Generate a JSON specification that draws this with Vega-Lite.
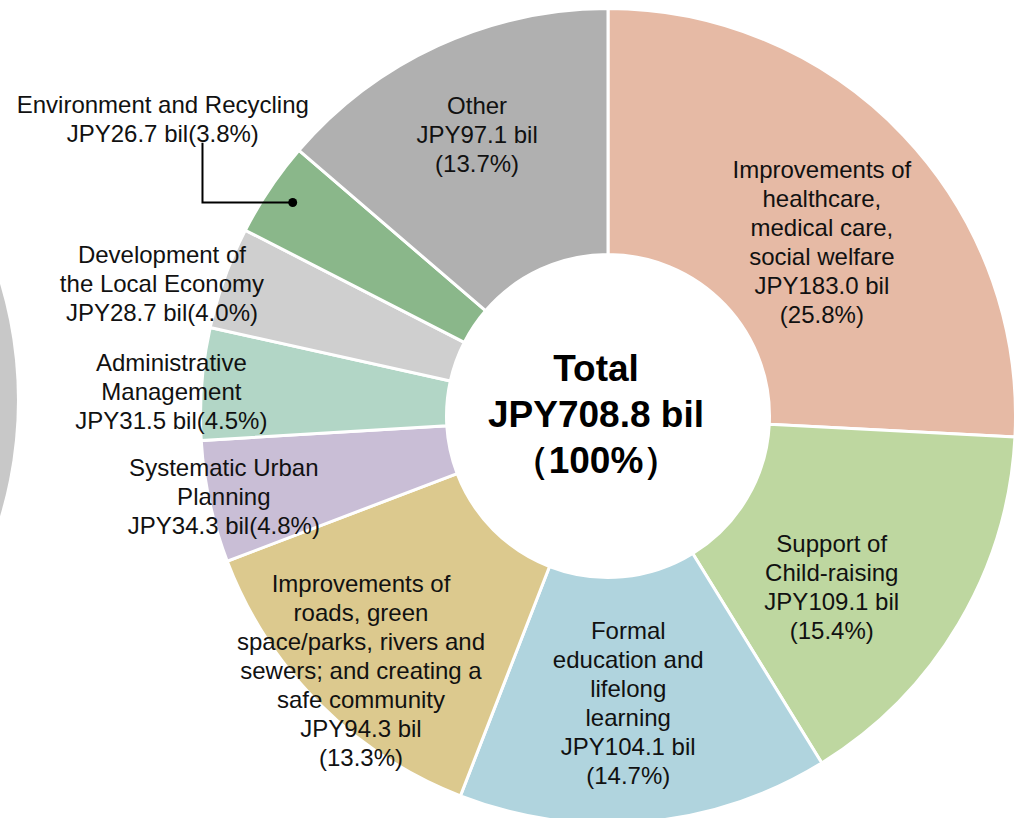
{
  "$schema": "https://vega.github.io/schema/vega-lite/v6.json",
  "width": 812,
  "height": 800,
  "autosize": {"type": "none"},
  "padding": {"left": 202, "right": 2, "top": 16, "bottom": 2},
  "background": "white",
  "config": {"view": {"stroke": null}, "text": {"font": "Liberation Sans", "fontSize": 24, "lineHeight": 29, "lineBreak": "\n", "color": "#111111", "align": "center", "baseline": "middle"}},
  "datasets": {
    "budget": [
      {"idx": 1, "key": "health", "value": 183.0, "label": "Improvements of\nhealthcare,\nmedical care,\nsocial welfare\nJPY183.0 bil\n(25.8%)"},
      {"idx": 2, "key": "child", "value": 109.1, "label": "Support of\nChild-raising\nJPY109.1 bil\n(15.4%)"},
      {"idx": 3, "key": "edu", "value": 104.1, "label": "Formal\neducation and\nlifelong\nlearning\nJPY104.1 bil\n(14.7%)"},
      {"idx": 4, "key": "roads", "value": 94.3, "label": "Improvements of\nroads, green\nspace/parks, rivers and\nsewers; and creating a\nsafe community\nJPY94.3 bil\n(13.3%)"},
      {"idx": 5, "key": "urban", "value": 34.3, "label": "Systematic Urban\nPlanning\nJPY34.3 bil(4.8%)"},
      {"idx": 6, "key": "admin", "value": 31.5, "label": "Administrative\nManagement\nJPY31.5 bil(4.5%)"},
      {"idx": 7, "key": "local", "value": 28.7, "label": "Development of\nthe Local Economy\nJPY28.7 bil(4.0%)"},
      {"idx": 8, "key": "env", "value": 26.7, "label": "Environment and Recycling\nJPY26.7 bil(3.8%)"},
      {"idx": 9, "key": "other", "value": 97.1, "label": "Other\nJPY97.1 bil\n(13.7%)"}
    ],
    "leader": [
      {"seq": 1, "lx": -0.9988, "ly": 0.673},
      {"seq": 2, "lx": -0.9988, "ly": 0.5259},
      {"seq": 3, "lx": -0.7766, "ly": 0.5259}
    ]
  },
  "layer": [
    {
      "data": {"values": [{"chart": "adjacent"}]},
      "mark": {"type": "arc", "outerRadius": 406, "innerRadius": 0, "theta": 0, "theta2": 6.2832, "color": "#C8C8C8"},
      "encoding": {
        "x": {"datum": -2.4557, "type": "quantitative", "scale": {"domain": [-1, 1], "nice": false, "zero": false}, "axis": null},
        "y": {"datum": 0.0394, "type": "quantitative", "scale": {"domain": [-0.98522, 0.98522], "nice": false, "zero": false}, "axis": null}
      }
    },
    {
      "data": {"name": "budget"},
      "mark": {"type": "arc", "outerRadius": 407.5, "innerRadius": 161.5, "stroke": "white", "strokeWidth": 3},
      "encoding": {
        "theta": {"field": "value", "type": "quantitative", "stack": true},
        "order": {"field": "idx", "type": "quantitative"},
        "color": {
          "field": "key", "type": "nominal", "legend": null,
          "scale": {
            "domain": ["health", "child", "edu", "roads", "urban", "admin", "local", "env", "other"],
            "range": ["#E6BAA5", "#BED7A0", "#B0D4DE", "#DCC98E", "#C9BED6", "#B2D6C6", "#CFCFCF", "#8AB78A", "#B0B0B0"]
          }
        }
      }
    },
    {
      "data": {"name": "leader"},
      "mark": {"type": "line", "color": "black", "strokeWidth": 2},
      "encoding": {
        "x": {"field": "lx", "type": "quantitative", "scale": {"domain": [-1, 1], "nice": false, "zero": false}, "axis": null},
        "y": {"field": "ly", "type": "quantitative", "scale": {"domain": [-0.98522, 0.98522], "nice": false, "zero": false}, "axis": null},
        "order": {"field": "seq", "type": "quantitative"}
      }
    },
    {
      "data": {"name": "leader"},
      "transform": [{"filter": "datum.seq == 3"}],
      "mark": {"type": "point", "filled": true, "color": "black", "size": 80, "opacity": 1},
      "encoding": {
        "x": {"field": "lx", "type": "quantitative", "scale": {"domain": [-1, 1], "nice": false, "zero": false}, "axis": null},
        "y": {"field": "ly", "type": "quantitative", "scale": {"domain": [-0.98522, 0.98522], "nice": false, "zero": false}, "axis": null}
      }
    },
    {
      "data": {"name": "budget"},
      "mark": {"type": "text", "radius": 274.3, "dx": 15, "dy": -56.5},
      "encoding": {
        "theta": {"field": "value", "type": "quantitative", "stack": true},
        "order": {"field": "idx", "type": "quantitative"},
        "text": {"condition": {"test": "datum.key === 'health'", "field": "label", "type": "nominal"}, "value": ""}
      }
    },
    {
      "data": {"name": "budget"},
      "mark": {"type": "text", "radius": 281, "dx": -18, "dy": -14.2},
      "encoding": {
        "theta": {"field": "value", "type": "quantitative", "stack": true},
        "order": {"field": "idx", "type": "quantitative"},
        "text": {"condition": {"test": "datum.key === 'child'", "field": "label", "type": "nominal"}, "value": ""}
      }
    },
    {
      "data": {"name": "budget"},
      "mark": {"type": "text", "radius": 289, "dx": -6, "dy": -71.8},
      "encoding": {
        "theta": {"field": "value", "type": "quantitative", "stack": true},
        "order": {"field": "idx", "type": "quantitative"},
        "text": {"condition": {"test": "datum.key === 'edu'", "field": "label", "type": "nominal"}, "value": ""}
      }
    },
    {
      "data": {"name": "budget"},
      "mark": {"type": "text", "radius": 356, "dx": 5.5, "dy": -81.9},
      "encoding": {
        "theta": {"field": "value", "type": "quantitative", "stack": true},
        "order": {"field": "idx", "type": "quantitative"},
        "text": {"condition": {"test": "datum.key === 'roads'", "field": "label", "type": "nominal"}, "value": ""}
      }
    },
    {
      "data": {"name": "budget"},
      "mark": {"type": "text", "radius": 393, "dx": 0, "dy": -29.8},
      "encoding": {
        "theta": {"field": "value", "type": "quantitative", "stack": true},
        "order": {"field": "idx", "type": "quantitative"},
        "text": {"condition": {"test": "datum.key === 'urban'", "field": "label", "type": "nominal"}, "value": ""}
      }
    },
    {
      "data": {"name": "budget"},
      "mark": {"type": "text", "radius": 437, "dx": -1, "dy": -17.3},
      "encoding": {
        "theta": {"field": "value", "type": "quantitative", "stack": true},
        "order": {"field": "idx", "type": "quantitative"},
        "text": {"condition": {"test": "datum.key === 'admin'", "field": "label", "type": "nominal"}, "value": ""}
      }
    },
    {
      "data": {"name": "budget"},
      "mark": {"type": "text", "radius": 464, "dx": -9.6, "dy": -2.5},
      "encoding": {
        "theta": {"field": "value", "type": "quantitative", "stack": true},
        "order": {"field": "idx", "type": "quantitative"},
        "text": {"condition": {"test": "datum.key === 'local'", "field": "label", "type": "nominal"}, "value": ""}
      }
    },
    {
      "data": {"name": "budget"},
      "mark": {"type": "text", "radius": 534, "dx": -2, "dy": -12.2},
      "encoding": {
        "theta": {"field": "value", "type": "quantitative", "stack": true},
        "order": {"field": "idx", "type": "quantitative"},
        "text": {"condition": {"test": "datum.key === 'env'", "field": "label", "type": "nominal"}, "value": ""}
      }
    },
    {
      "data": {"name": "budget"},
      "mark": {"type": "text", "radius": 309, "dx": -2, "dy": -28.2},
      "encoding": {
        "theta": {"field": "value", "type": "quantitative", "stack": true},
        "order": {"field": "idx", "type": "quantitative"},
        "text": {"condition": {"test": "datum.key === 'other'", "field": "label", "type": "nominal"}, "value": ""}
      }
    },
    {
      "data": {"values": [{"t": "Total\nJPY708.8 bil\n（100%）"}]},
      "mark": {"type": "text", "fontSize": 37, "fontWeight": "bold", "lineHeight": 46, "color": "#000000", "dx": -12, "dy": -46},
      "encoding": {
        "x": {"datum": 0, "type": "quantitative", "scale": {"domain": [-1, 1], "nice": false, "zero": false}, "axis": null},
        "y": {"datum": 0, "type": "quantitative", "scale": {"domain": [-0.98522, 0.98522], "nice": false, "zero": false}, "axis": null},
        "text": {"field": "t", "type": "nominal"}
      }
    }
  ]
}
